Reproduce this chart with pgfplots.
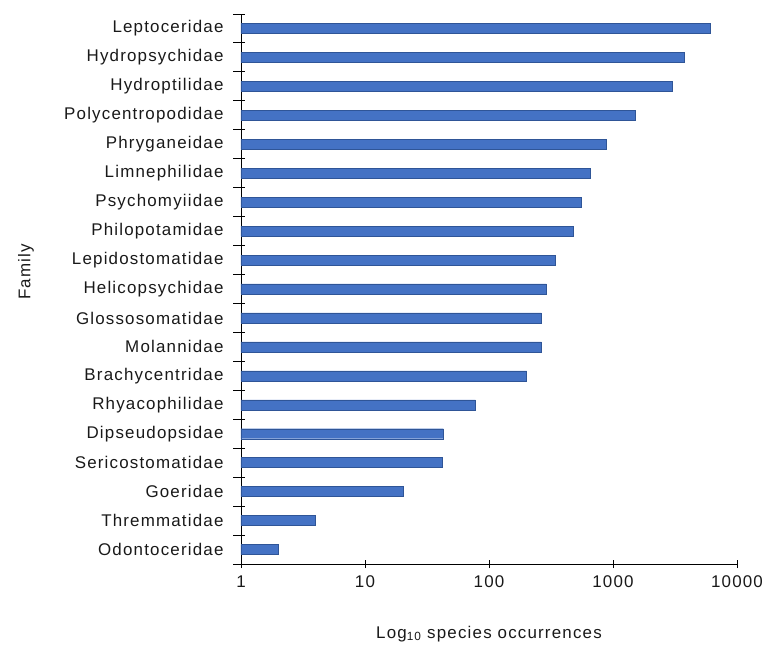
\documentclass[border=0pt]{standalone}
\usepackage{fontspec}
\setmainfont{Liberation Sans}[LetterSpace=7]
\usepackage{pgfplots}
\pgfplotsset{compat=1.18}
\definecolor{barblue}{HTML}{4472C4}
\definecolor{baredge}{HTML}{2F5597}

\begin{document}
\begin{tikzpicture}
% fixed page frame around the axis (axis origin = lower-left corner of plot area)
\path[use as bounding box] (-241bp,-82bp) rectangle (525bp,564bp);
\begin{axis}[
  at={(0,0)}, anchor=south west,
  scale only axis,
  width=496bp, height=550bp,
  xmode=log,
  xmin=1, xmax=10000,
  ymin=-0.5, ymax=18.5,
  axis x line*=bottom,
  axis y line*=left,
  axis line style={-, black, line width=0.9pt},
  xtick={1,10,100,1000,10000},
  xticklabels={1,10,100,1000,10000},
  xminorticks=false,
  ytick={0,...,18},
  yticklabels={Odontoceridae,Thremmatidae,Goeridae,Sericostomatidae,Dipseudopsidae,Rhyacophilidae,Brachycentridae,Molannidae,Glossosomatidae,Helicopsychidae,Lepidostomatidae,Philopotamidae,Psychomyiidae,Limnephilidae,Phryganeidae,Polycentropodidae,Hydroptilidae,Hydropsychidae,Leptoceridae},
  tick align=center,
  xtick style={black, line width=0.9pt},
  major tick length=8bp,
  major y tick style={draw=none},
  /pgf/number format/assume math mode=true,
  ticklabel style={font=\fontsize{17}{20}\selectfont, text=black!90},
  yticklabel style={xshift=-10bp},
  xticklabel style={yshift=-4bp},
  xlabel={Log\textsubscript{10} species occurrences},
  ylabel={Family},
  label style={font=\fontsize{17}{20}\selectfont, text=black!90},
  xlabel style={at={(axis description cs:0.5,0)}, anchor=center, yshift=-70bp},
  ylabel style={at={(axis description cs:-0.4335,0.531)}, anchor=center},
  clip=false,
]
\addplot[xbar, bar width=10bp, fill=barblue, draw=baredge, line width=0.4pt] coordinates {
  (2,0)
  (4,1)
  (20.2,2)
  (42,3)
  (42.8,4)
  (77.6,5)
  (201,6)
  (264,7)
  (264,8)
  (290,9)
  (341,10)
  (479,11)
  (552,12)
  (661,13)
  (889,14)
  (1505,15)
  (2990,16)
  (3740,17)
  (6060,18)
};
% category separators on the family axis
\addplot[only marks, mark=-, mark size=6bp, forget plot,
  mark options={xshift=-2bp, line width=0.9pt, draw=black}] coordinates {
  (1,-0.5) (1,0.5) (1,1.5) (1,2.5) (1,3.5) (1,4.5) (1,5.5) (1,6.5) (1,7.5) (1,8.5)
  (1,9.5) (1,10.5) (1,11.5) (1,12.5) (1,13.5) (1,14.5) (1,15.5) (1,16.5) (1,17.5) (1,18.5)
};
\end{axis}
\end{tikzpicture}
\end{document}
